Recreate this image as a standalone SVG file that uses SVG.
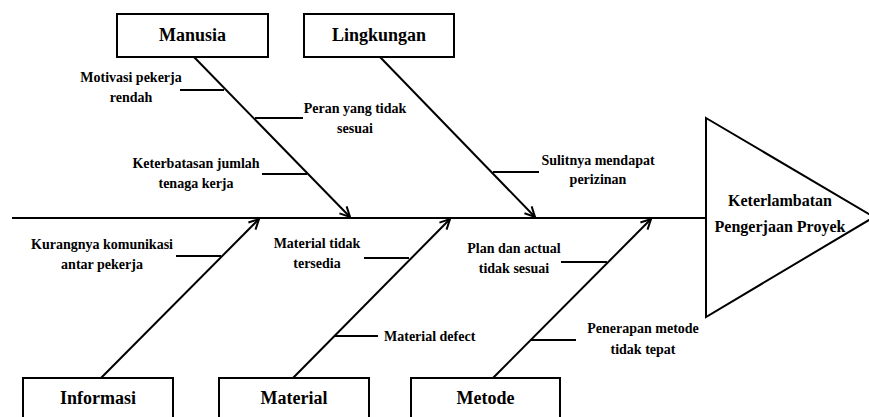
<svg xmlns="http://www.w3.org/2000/svg" width="869" height="417" viewBox="0 0 869 417">
<style>
.box{fill:#fff;stroke:#000;stroke-width:2}
.ln{stroke:#000;stroke-width:2;fill:none}
.t{font-family:"Liberation Serif","Times New Roman",serif;font-weight:bold;fill:#000;text-anchor:middle}
.big{font-size:18px}
.sm{font-size:14px}
.md{font-size:16px}
</style>
<defs>
<marker id="arr" viewBox="0 0 12 12" refX="11" refY="6" markerWidth="12" markerHeight="12" markerUnits="userSpaceOnUse" orient="auto">
<polyline points="1,1 11,6 1,11" fill="none" stroke="#000" stroke-width="2"/>
</marker>
</defs>
<rect width="869" height="417" fill="#fff"/>
<g id="connectors">
<line class="ln" x1="12" y1="218" x2="706" y2="218"/>
<line class="ln" x1="194" y1="57" x2="350" y2="217" marker-end="url(#arr)"/>
<line class="ln" x1="380" y1="57" x2="535" y2="217" marker-end="url(#arr)"/>
<line class="ln" x1="101" y1="378" x2="259" y2="219" marker-end="url(#arr)"/>
<line class="ln" x1="293" y1="378" x2="450" y2="219" marker-end="url(#arr)"/>
<line class="ln" x1="493" y1="378" x2="651" y2="219" marker-end="url(#arr)"/>
<line class="ln" x1="180" y1="90" x2="224" y2="90"/>
<line class="ln" x1="255" y1="118" x2="303" y2="118"/>
<line class="ln" x1="262" y1="174" x2="307" y2="174"/>
<line class="ln" x1="493" y1="172" x2="539" y2="172"/>
<line class="ln" x1="176" y1="256" x2="221" y2="256"/>
<line class="ln" x1="364" y1="258" x2="409" y2="258"/>
<line class="ln" x1="334" y1="336" x2="378" y2="336"/>
<line class="ln" x1="561" y1="262" x2="607" y2="262"/>
<line class="ln" x1="530" y1="340" x2="576" y2="340"/>
</g>
<g id="manusia">
<rect class="box" x="117" y="14" width="151" height="43"/>
<text class="t big" x="192.5" y="41">Manusia</text>
</g>
<g id="lingkungan">
<rect class="box" x="304" y="14" width="150" height="43"/>
<text class="t big" x="379" y="41">Lingkungan</text>
</g>
<g id="informasi">
<rect class="box" x="23" y="378" width="150" height="46"/>
<text class="t big" x="98" y="404">Informasi</text>
</g>
<g id="material">
<rect class="box" x="219" y="378" width="150" height="46"/>
<text class="t big" x="294" y="404">Material</text>
</g>
<g id="metode">
<rect class="box" x="411" y="378" width="149" height="46"/>
<text class="t big" x="485.5" y="404">Metode</text>
</g>
<g id="effect">
<polygon class="box" points="706,118 874,217 706,317"/>
<text class="t md" x="780" y="206">Keterlambatan</text>
<text class="t md" x="780" y="232">Pengerjaan Proyek</text>
</g>
<g id="labels">
<text class="t sm" x="131" y="82">Motivasi pekerja</text>
<text class="t sm" x="131" y="102">rendah</text>
<text class="t sm" x="355" y="113">Peran yang tidak</text>
<text class="t sm" x="355" y="133">sesuai</text>
<text class="t sm" x="196" y="168">Keterbatasan jumlah</text>
<text class="t sm" x="196" y="188">tenaga kerja</text>
<text class="t sm" x="598" y="165">Sulitnya mendapat</text>
<text class="t sm" x="598" y="184">perizinan</text>
<text class="t sm" x="102" y="249">Kurangnya komunikasi</text>
<text class="t sm" x="102" y="269">antar pekerja</text>
<text class="t sm" x="317" y="248">Material tidak</text>
<text class="t sm" x="317" y="268">tersedia</text>
<text class="t sm" x="384" y="341" style="text-anchor:start">Material defect</text>
<text class="t sm" x="514" y="253">Plan dan actual</text>
<text class="t sm" x="514" y="273">tidak sesuai</text>
<text class="t sm" x="643" y="333">Penerapan metode</text>
<text class="t sm" x="643" y="354">tidak tepat</text>
</g>
</svg>
